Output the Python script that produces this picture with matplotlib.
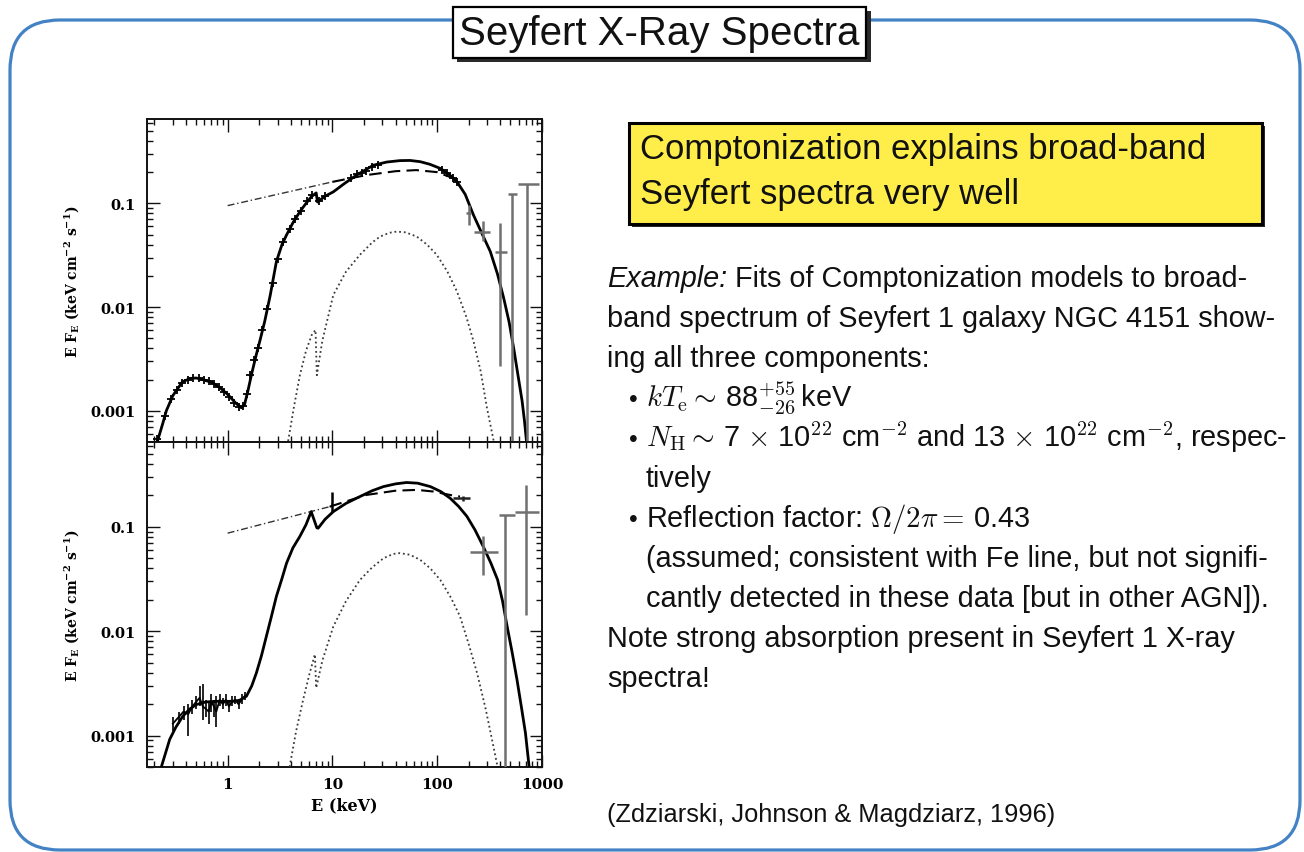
import matplotlib
matplotlib.use("Agg")
import numpy as np
import matplotlib.pyplot as plt
from matplotlib.patches import FancyBboxPatch, Rectangle
from matplotlib.ticker import NullFormatter

# ---------------------------------------------------------------- data
# NGC 4151 broad-band spectra (E in keV, E F_E in keV cm^-2 s^-1)

# upper panel: total model, power-law continuum, Compton reflection
top_model_E = [0.21, 0.24, 0.26, 0.30, 0.37, 0.44, 0.50, 0.60, 0.72, 0.85, 1.0, 1.2,
               1.35, 1.45, 1.56, 1.70, 1.88, 2.05, 2.26, 2.55, 2.92, 3.3, 3.65, 4.2,
               4.89, 5.6, 6.3, 7.0, 7.2, 8.5, 10.2, 13, 17, 24.6, 33, 44, 55, 68.8,
               85, 107, 130, 154, 185, 222, 270, 321, 375, 431, 485, 537, 590, 646,
               680, 711]
top_model_F = [4.8e-4, 7.5e-4, 1.0e-3, 1.4e-3, 1.9e-3, 2.05e-3, 2.07e-3, 1.98e-3,
               1.86e-3, 1.66e-3, 1.44e-3, 1.18e-3, 1.07e-3, 1.15e-3, 1.55e-3, 2.3e-3,
               3.5e-3, 4.9e-3, 7.3e-3, 1.3e-2, 2.75e-2, 4.0e-2, 4.96e-2, 6.5e-2,
               8.3e-2, 0.100, 0.116, 0.126, 0.103, 0.117, 0.129, 0.155, 0.187, 0.233,
               0.250, 0.258, 0.259, 0.252, 0.238, 0.217, 0.190, 0.162, 0.122, 0.077,
               0.050, 0.0343, 0.021, 0.0122, 0.0072, 0.0040, 0.0022, 0.00124, 0.0008,
               0.00051]
top_pl_E = [1.0, 10.0]
top_pl_F = [0.095, 0.161]
top_comp_E = [10.0, 21.0, 40.0, 63.0, 99.0, 144.0]
top_comp_F = [0.161, 0.187, 0.204, 0.209, 0.200, 0.174]
top_refl_E = [3.78, 4.3, 4.89, 5.6, 6.4, 6.9, 7.1, 8.0, 10.2, 13.5, 18.3, 24, 28.5, 35,
              41, 50, 63.8, 80, 99, 125, 154, 190, 222, 260, 298, 346]
top_refl_F = [5.1e-4, 1.1e-3, 2.2e-3, 3.8e-3, 5.5e-3, 6.0e-3, 2.2e-3, 4.7e-3, 1.31e-2,
              2.2e-2, 3.19e-2, 4.2e-2, 4.78e-2, 5.2e-2, 5.34e-2, 5.25e-2, 4.78e-2,
              4.0e-2, 3.19e-2, 2.2e-2, 1.42e-2, 8.0e-3, 4.68e-3, 2.4e-3, 1.07e-3, 5.1e-4]

# upper panel: measured points
top_data_E = [0.21, 0.25, 0.29, 0.33, 0.37, 0.42, 0.47, 0.53, 0.59, 0.66, 0.74, 0.83,
              0.93, 1.04, 1.16, 1.28, 1.40, 1.52, 1.65, 1.80, 1.95, 2.15, 2.4, 2.7,
              3.0, 3.4, 3.9, 4.4, 5.0, 5.7, 6.4, 7.5, 8.5, 15, 17, 19, 21, 24, 27,
              110, 125, 140, 155]
top_data_F = [5.3e-4, 9.0e-4, 1.3e-3, 1.6e-3, 1.85e-3, 1.97e-3, 2.05e-3, 2.05e-3,
              2.0e-3, 1.92e-3, 1.82e-3, 1.68e-3, 1.52e-3, 1.36e-3, 1.2e-3, 1.08e-3,
              1.1e-3, 1.45e-3, 2.2e-3, 3.1e-3, 4.0e-3, 6.0e-3, 9.5e-3, 1.7e-2, 2.9e-2,
              4.2e-2, 5.7e-2, 7.0e-2, 8.5e-2, 0.105, 0.120, 0.106, 0.118, 0.175, 0.190,
              0.198, 0.205, 0.225, 0.232, 0.210, 0.195, 0.175, 0.160]

# upper panel: high-energy bins (centre, bin edges, flux range)
top_hi_E = [200, 275, 400, 520, 727]
top_hi_F = [0.080, 0.053, 0.0343, 0.122, 0.152]
top_hi_Elo = [188, 222, 358, 470, 595]
top_hi_Ehi = [212, 321, 465, 577, 930]
top_hi_Flo = [0.062, 0.043, 0.0027, 1e-5, 1e-5]
top_hi_Fhi = [0.097, 0.067, 0.064, 0.122, 0.152]

# lower panel: total model, power-law continuum, Compton reflection
bot_model_E = [0.23, 0.26, 0.28, 0.32, 0.373, 0.43, 0.50, 0.62, 0.78, 0.95, 1.12, 1.3,
               1.51, 1.70, 1.88, 2.1, 2.34, 2.6, 2.92, 3.3, 3.65, 4.2, 4.89, 5.6, 6.27,
               7.1, 7.3, 8.5, 10.2, 13.5, 18.3, 24, 30.7, 40, 51, 65, 86, 108, 133, 160,
               192, 230, 275, 325, 377, 420, 465, 520, 577, 640, 695, 754]
bot_model_F = [4.8e-4, 7.2e-4, 9.2e-4, 1.2e-3, 1.53e-3, 1.78e-3, 1.98e-3, 2.1e-3,
               2.13e-3, 2.13e-3, 2.13e-3, 2.18e-3, 2.38e-3, 3.0e-3, 3.98e-3, 5.8e-3,
               8.9e-3, 1.35e-2, 2.16e-2, 3.2e-2, 4.49e-2, 6.3e-2, 8.1e-2, 0.105, 0.140,
               0.098, 0.097, 0.118, 0.140, 0.168, 0.195, 0.222, 0.243, 0.258, 0.266,
               0.262, 0.243, 0.218, 0.188, 0.157, 0.126, 0.093, 0.0648, 0.045, 0.0311,
               0.0195, 0.0111, 0.0062, 0.00344, 0.0018, 0.00106, 0.0005]
bot_pl_E = [1.0, 9.4]
bot_pl_F = [0.087, 0.156]
bot_comp_E = [9.4, 21.0, 40.0, 64.0, 92.0, 133.0, 165.0]
bot_comp_F = [0.156, 0.202, 0.222, 0.226, 0.218, 0.202, 0.195]
bot_refl_E = [3.9, 4.5, 5.25, 6.0, 6.8, 7.0, 8.0, 10.2, 13.5, 18.3, 24, 30.7, 38, 44, 55,
              68.8, 86, 107, 135, 165, 200, 240, 290, 333, 377]
bot_refl_F = [5e-4, 1.1e-3, 2.2e-3, 3.8e-3, 6.0e-3, 2.86e-3, 5.2e-3, 1.11e-2, 1.95e-2,
              3.1e-2, 4.1e-2, 5.0e-2, 5.5e-2, 5.6e-2, 5.4e-2, 4.83e-2, 4.0e-2, 3.1e-2,
              2.1e-2, 1.39e-2, 7.5e-3, 3.98e-3, 1.8e-3, 9.2e-4, 5e-4]

# lower panel: soft X-ray points with errors
bot_data_E = [0.30, 0.34, 0.38, 0.42, 0.46, 0.50, 0.54, 0.58, 0.62, 0.66, 0.70, 0.74,
              0.78, 0.84, 0.90, 0.96, 1.03, 1.10, 1.18, 1.27, 1.36, 1.46]
bot_data_F = [0.0013, 0.0015, 0.0017, 0.0016, 0.0019, 0.0021, 0.0023, 0.0019, 0.0018,
              0.0017, 0.0021, 0.0019, 0.0017, 0.0022, 0.0020, 0.0022, 0.0019, 0.0021,
              0.0022, 0.0020, 0.0022, 0.0024]
bot_data_Flo = [0.0011, 0.0013, 0.0014, 0.0010, 0.0016, 0.0018, 0.0019, 0.0014, 0.0015,
                0.0013, 0.0017, 0.0015, 0.0012, 0.0019, 0.0018, 0.0019, 0.0017, 0.0019,
                0.0020, 0.0018, 0.0020, 0.0022]
bot_data_Fhi = [0.0015, 0.0017, 0.0019, 0.0020, 0.0022, 0.0024, 0.0030, 0.0031, 0.0022,
                0.0021, 0.0025, 0.0022, 0.0024, 0.0025, 0.0023, 0.0025, 0.0022, 0.0024,
                0.0024, 0.0022, 0.0025, 0.0026]

# lower panel: hard X-ray / gamma-ray bins
bot_hi_E = [9.8, 178, 275, 447, 711]
bot_hi_F = [0.165, 0.188, 0.058, 0.130, 0.140]
bot_hi_Elo = [9.7, 143, 206, 385, 555]
bot_hi_Ehi = [9.9, 206, 377, 555, 930]
bot_hi_Flo = [0.138, 0.178, 0.0348, 1e-5, 0.0144]
bot_hi_Fhi = [0.218, 0.198, 0.081, 0.130, 0.252]
bot_hi_color = ["black", "#222222", "#707070", "#707070", "#707070"]

x_ticks = [1, 10, 100, 1000]
x_labels = ["1", "10", "100", "1000"]
y_ticks = [0.001, 0.01, 0.1]
y_labels = ["0.001", "0.01", "0.1"]

# ---------------------------------------------------------------- figure
W, H = 1304, 853
fig = plt.figure(figsize=(W / 100, H / 100), dpi=100)

bg = fig.add_axes([0, 0, 1, 1], zorder=0)
bg.set_xlim(0, W)
bg.set_ylim(H, 0)
bg.axis("off")

SANS = "Liberation Sans"
INK = "#111111"

# slide frame
bg.add_patch(FancyBboxPatch((10, 21), 1290, 830,
                            boxstyle="round,pad=0,rounding_size=50",
                            fill=False, ec="#4382c4", lw=2.3, zorder=1))

# title box with drop shadow
bg.add_patch(Rectangle((457, 12), 414, 51, fc="#2a2a2a", ec="none", zorder=2))
bg.add_patch(Rectangle((452.5, 7.5), 413, 51, fc="white", ec="black", lw=1.6, zorder=3))
bg.text(659, 45, "Seyfert X-Ray Spectra", family=SANS, fontsize=29, color=INK,
        ha="center", va="baseline", zorder=4)

# highlighted statement
bg.add_patch(Rectangle((632, 127), 633, 101, fc="#2a2a2a", ec="none", zorder=2))
bg.add_patch(Rectangle((629, 124), 633, 101, fc="#ffee4a", ec="black", lw=2.2, zorder=3))
bg.text(640, 159, "Comptonization explains broad-band", family=SANS, fontsize=25,
        color=INK, ha="left", va="baseline", zorder=4)
bg.text(640, 204, "Seyfert spectra very well", family=SANS, fontsize=25,
        color=INK, ha="left", va="baseline", zorder=4)

# body text
FS = 20.8
X0, XB, XI = 607, 629, 646
t1 = bg.text(X0, 287, "Example:", family=SANS, style="italic", fontsize=FS,
             color=INK, ha="left", va="baseline", zorder=4)
bg.annotate(" Fits of Comptonization models to broad-", xy=(1, 0), xycoords=t1,
            family=SANS, fontsize=FS, color=INK, ha="left", va="bottom", zorder=4)

body = [
    (X0, 327, "band spectrum of Seyfert 1 galaxy NGC 4151 show-"),
    (X0, 367, "ing all three components:"),
    (XI, 407, r"$kT_{\rm e} \sim\,$88$^{+55}_{-26}\,$keV"),
    (XI, 447, r"$N_{\rm H} \sim\,$7 $\times$ 10$^{22}$ cm$^{-2}$ and 13 $\times$ "
              r"10$^{22}$ cm$^{-2}$, respec-"),
    (XI, 487, "tively"),
    (XI, 527, r"Reflection factor: $\Omega/2\pi =\,$0.43"),
    (XI, 567, "(assumed; consistent with Fe line, but not signifi-"),
    (XI, 607, "cantly detected in these data [but in other AGN])."),
    (X0, 647, "Note strong absorption present in Seyfert 1 X-ray"),
    (X0, 687, "spectra!"),
]
for x, y, s in body:
    bg.text(x, y, s, family=SANS, fontsize=FS, color=INK, ha="left", va="baseline",
            math_fontfamily="cm", zorder=4)
for y in (407, 447, 527):
    bg.text(XB, y, "\u2022", family=SANS, fontsize=FS - 3, color=INK, ha="left",
            va="baseline", zorder=4)

bg.text(X0, 822, "(Zdziarski, Johnson & Magdziarz, 1996)", family=SANS, fontsize=18.3,
        color=INK, ha="left", va="baseline", zorder=4)

# ---------------------------------------------------------------- spectra panels
SERIF = "DejaVu Serif"
ax_top = fig.add_axes([147 / W, 1 - 443 / H, 395 / W, 323 / H], zorder=2)
ax_bot = fig.add_axes([147 / W, 1 - 768 / H, 395 / W, 325 / H], zorder=2)

for ax in (ax_top, ax_bot):
    ax.set_xscale("log")
    ax.set_yscale("log")
    ax.set_xlim(0.17, 1000)
    ax.set_ylim(5.0e-4, 0.65)
    ax.set_yticks(y_ticks, y_labels, fontsize=10.5, fontfamily=SERIF, fontweight="bold")
    ax.yaxis.set_minor_formatter(NullFormatter())
    ax.xaxis.set_minor_formatter(NullFormatter())
    ax.tick_params(which="both", direction="in", top=True, right=True, width=1.0,
                   color="#111111")
    ax.tick_params(which="major", length=9, pad=8)
    ax.tick_params(which="minor", length=4)
    for sp in ax.spines.values():
        sp.set_linewidth(1.4)
        sp.set_color("#111111")
    ax.set_ylabel(r"E F$_\mathbf{E}$ (keV cm$^\mathbf{-2}$ s$^\mathbf{-1}$)",
                  fontsize=10, fontfamily=SERIF, fontweight="bold",
                  math_fontfamily="dejavuserif")
    ax.yaxis.set_label_coords(-0.165, 0.5)

ax_top.set_xticks(x_ticks, [""] * len(x_ticks))
ax_bot.set_xticks(x_ticks, x_labels, fontsize=11, fontfamily=SERIF, fontweight="bold")
ax_bot.tick_params(axis="x", which="major", pad=7)
ax_bot.set_xlabel("E (keV)", fontsize=11.5, fontfamily=SERIF, fontweight="bold")
ax_bot.xaxis.set_label_coords(0.5, -0.09)


def draw_components(ax, mE, mF, pE, pF, cE, cF, rE, rF):
    ax.plot(rE, rF, color="#3a3a3a", lw=1.3, ls=(0, (1, 1.6)), zorder=3)
    ax.plot(pE, pF, color="#333333", lw=1.0, ls=(0, (5, 2, 1, 2)), zorder=3)
    ax.plot(cE, cF, color="black", lw=1.5, ls=(0, (6, 3)), zorder=3)
    ax.plot(mE, mF, color="black", lw=2.0, zorder=4)


def draw_bins(ax, E, F, Elo, Ehi, Flo, Fhi, colors):
    for e, f, el, eh, fl, fh, c in zip(E, F, Elo, Ehi, Flo, Fhi, colors):
        ax.errorbar([e], [f], xerr=[[e - el], [eh - e]], yerr=[[f - fl], [fh - f]],
                    fmt="none", ecolor=c, elinewidth=1.8, capsize=0, zorder=5)


draw_components(ax_top, top_model_E, top_model_F, top_pl_E, top_pl_F,
                top_comp_E, top_comp_F, top_refl_E, top_refl_F)
ax_top.plot(top_data_E, top_data_F, ls="none", marker="+", ms=6, mew=1.3,
            color="black", zorder=5)
draw_bins(ax_top, top_hi_E, top_hi_F, top_hi_Elo, top_hi_Ehi, top_hi_Flo, top_hi_Fhi,
          ["#707070"] * len(top_hi_E))

draw_components(ax_bot, bot_model_E, bot_model_F, bot_pl_E, bot_pl_F,
                bot_comp_E, bot_comp_F, bot_refl_E, bot_refl_F)
bdE = np.array(bot_data_E)
bdF = np.array(bot_data_F)
ax_bot.errorbar(bdE, bdF, yerr=[bdF - np.array(bot_data_Flo), np.array(bot_data_Fhi) - bdF],
                fmt="none", ecolor="black", elinewidth=1.2, capsize=0, zorder=5)
ax_bot.plot(bdE, bdF, color="black", lw=1.3, zorder=5)
draw_bins(ax_bot, bot_hi_E, bot_hi_F, bot_hi_Elo, bot_hi_Ehi, bot_hi_Flo, bot_hi_Fhi,
          bot_hi_color)

fig.savefig("out.png", dpi=100)
